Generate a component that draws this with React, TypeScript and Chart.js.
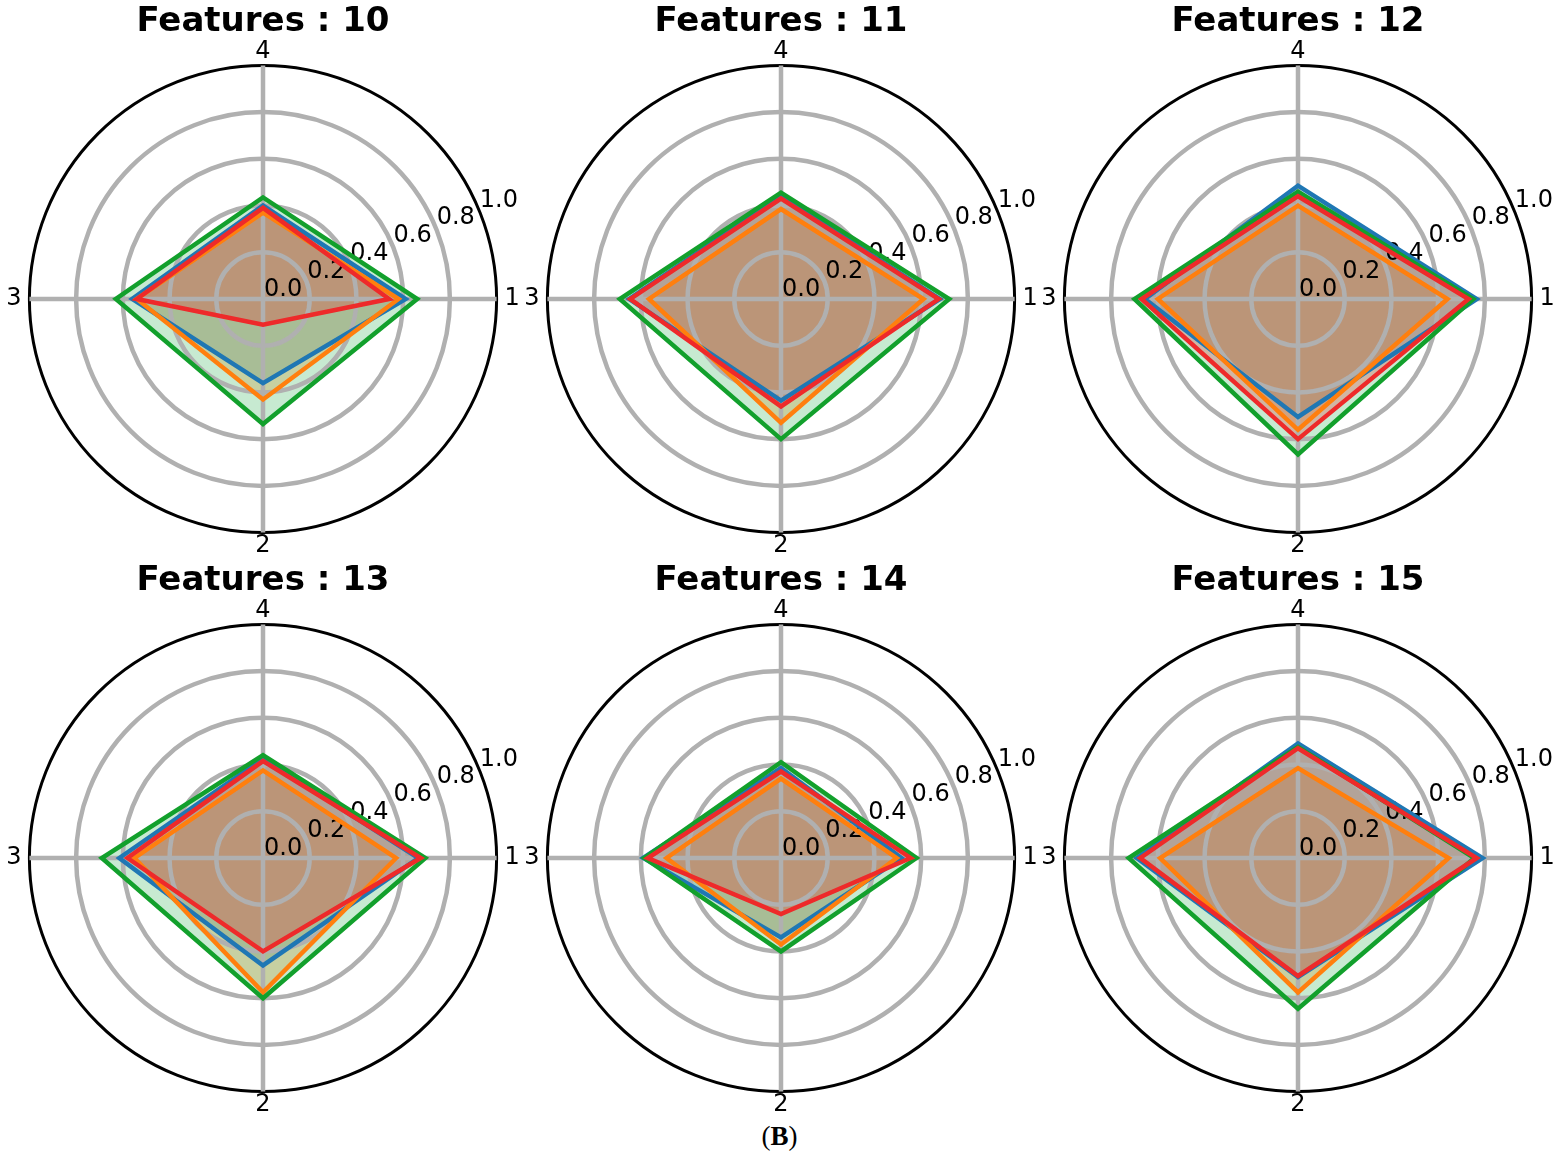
import { Chart, registerables } from 'chart.js';
import { useEffect, useRef } from 'react';

Chart.register(...registerables);

// values per panel, axis order 1, 2, 3, 4 (clockwise from the right)
const featureCounts = [10, 11, 12, 13, 14, 15];
const axisLabels = ['1', '2', '3', '4'];
const tickValues = [0, 0.2, 0.4, 0.6, 0.8, 1.0];
const tickLabels = ['0.0', '0.2', '0.4', '0.6', '0.8', '1.0'];

const blueValues = [
	[0.61, 0.36, 0.56, 0.40],
	[0.68, 0.435, 0.65, 0.44],
	[0.765, 0.505, 0.655, 0.485],
	[0.665, 0.46, 0.615, 0.425],
	[0.515, 0.34, 0.59, 0.385],
	[0.79, 0.51, 0.69, 0.49],
];
const orangeValues = [
	[0.58, 0.43, 0.54, 0.37],
	[0.61, 0.53, 0.565, 0.385],
	[0.64, 0.56, 0.60, 0.40],
	[0.57, 0.575, 0.55, 0.375],
	[0.495, 0.37, 0.49, 0.34],
	[0.645, 0.575, 0.59, 0.385],
];
const greenValues = [
	[0.66, 0.535, 0.63, 0.435],
	[0.72, 0.60, 0.69, 0.455],
	[0.75, 0.665, 0.70, 0.46],
	[0.695, 0.60, 0.69, 0.44],
	[0.58, 0.40, 0.585, 0.41],
	[0.755, 0.645, 0.725, 0.475],
];
const redValues = [
	[0.54, 0.11, 0.54, 0.39],
	[0.675, 0.46, 0.645, 0.43],
	[0.73, 0.60, 0.67, 0.44],
	[0.675, 0.40, 0.58, 0.415],
	[0.555, 0.24, 0.57, 0.37],
	[0.765, 0.505, 0.675, 0.47],
];

const panelCenters = [
	[263, 299], [781, 299], [1298, 299],
	[263, 858], [781, 858], [1298, 858],
];

const CW = 560;
const CH = 559;

const tickLabelPlugin = {
	id: 'tickLabelsAtAngle',
	beforeDatasetsDraw(chart: any) {
		const scale = chart.scales.r;
		const ctx = chart.ctx;
		ctx.save();
		ctx.font = '24px "DejaVu Sans"';
		ctx.fillStyle = '#000';
		ctx.textAlign = 'left';
		ctx.textBaseline = 'alphabetic';
		tickValues.forEach((v, i) => {
			const p = scale.getPointPosition(0, scale.getDistanceFromCenterForValue(v), -Math.PI / 8);
			ctx.fillText(tickLabels[i], p.x + 1, p.y - 3);
		});
		ctx.restore();
	},
};

function series(label: string, data: number[], color: string, fillColor: string, order: number) {
	return {
		label,
		data,
		borderColor: color,
		backgroundColor: fillColor,
		borderWidth: 4.5,
		pointRadius: 0,
		pointHoverRadius: 0,
		fill: 'origin',
		order,
	};
}

function RadarPanel({ index }: { index: number }) {
	const ref = useRef<HTMLCanvasElement | null>(null);
	useEffect(() => {
		if (!ref.current) return;
		const chart = new Chart(ref.current, {
			type: 'radar',
			data: {
				labels: axisLabels,
				datasets: [
					series('blue', blueValues[index], '#1f77b4', 'rgba(31,119,180,0.25)', 3),
					series('orange', orangeValues[index], '#ff7f0e', 'rgba(255,127,14,0.27)', 2),
					series('green', greenValues[index], '#12a02c', 'rgba(30,170,70,0.25)', 1),
					series('red', redValues[index], '#ee2a2a', 'rgba(235,40,40,0.27)', 0),
				] as any,
			},
			options: {
				animation: false,
				responsive: false,
				layout: { padding: 0 },
				elements: { line: { tension: 0, borderJoinStyle: 'miter' } },
				plugins: {
					legend: { display: false },
					tooltip: { enabled: false },
					filler: { drawTime: 'beforeDraw' },
					title: {
						display: true,
						text: `Features : ${featureCounts[index]}`,
						color: '#000',
						font: { family: 'DejaVu Sans', size: 34, weight: 'bold', lineHeight: 1 },
						padding: { top: 5, bottom: 0 },
					},
				},
				scales: {
					r: {
						min: 0,
						max: 1,
						startAngle: 90,
						ticks: { display: false, stepSize: 0.2 },
						grid: {
							circular: true,
							color: (c: any) => (Math.abs(c.tick.value - 1) < 1e-6 ? '#000' : '#b0b0b0'),
							lineWidth: (c: any) => (Math.abs(c.tick.value - 1) < 1e-6 ? 3 : 4.5),
						},
						angleLines: { color: '#b0b0b0', lineWidth: 4.5 },
						pointLabels: {
							color: '#000',
							font: { family: 'DejaVu Sans', size: 24, lineHeight: 1.1 },
							padding: (c: any) => (c.index % 2 === 0 ? 8 : 0),
						},
					},
				},
			},
			plugins: [tickLabelPlugin],
		});
		return () => chart.destroy();
	}, [index]);

	const [cx, cy] = panelCenters[index];
	return (
		<canvas
			ref={ref}
			width={CW}
			height={CH}
			style={{ position: 'absolute', left: cx - CW / 2, top: cy - 299, width: CW, height: CH }}
		></canvas>
	);
}

export default function App() {
	return (
		<div style={{ position: 'fixed', left: 0, top: 0, width: 1559, height: 1159, background: '#fff', overflow: 'hidden' }}>
			{featureCounts.map((_, i) => (
				<RadarPanel key={i} index={i} />
			))}
			<div
				style={{
					position: 'absolute', left: 0, top: 1120, width: 1559, textAlign: 'center',
					fontFamily: '"Liberation Serif", serif', fontSize: 27, lineHeight: '32px', color: '#000',
				}}
			>
				(<b>B</b>)
			</div>
		</div>
	);
}
